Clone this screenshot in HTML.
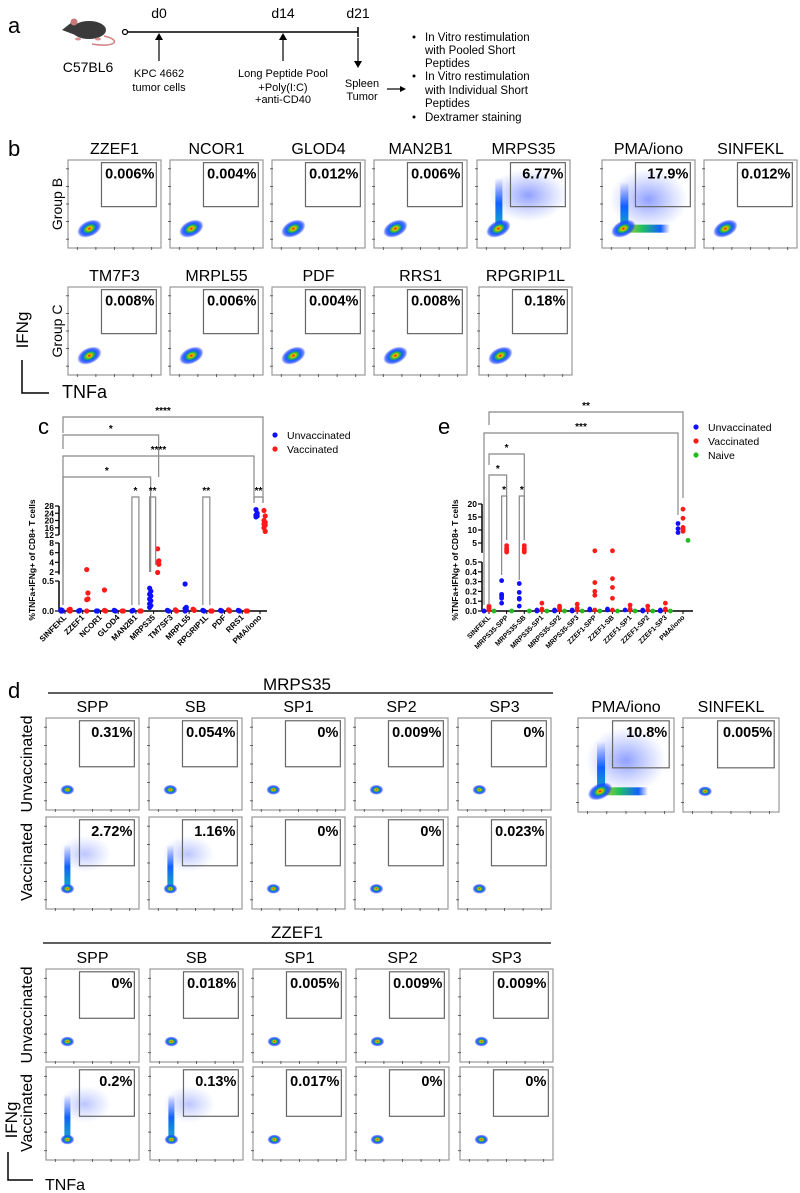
<!DOCTYPE html>
<html><head><meta charset="utf-8">
<style>
html,body{margin:0;padding:0;background:#fff;}
svg{display:block;font-family:"Liberation Sans",Arial,sans-serif;}
</style></head>
<body>
<svg id="fig" width="800" height="1193" viewBox="0 0 800 1193" xmlns="http://www.w3.org/2000/svg">
<defs>
<radialGradient id="blob" cx="0.5" cy="0.5" r="0.5">
<stop offset="0" stop-color="#e00000"/><stop offset="0.18" stop-color="#f0c000"/><stop offset="0.35" stop-color="#30c030"/><stop offset="0.55" stop-color="#1060ff"/><stop offset="0.8" stop-color="#2040ff" stop-opacity="0.7"/><stop offset="1" stop-color="#3050ff" stop-opacity="0"/>
</radialGradient>
<radialGradient id="haze" cx="0.5" cy="0.5" r="0.5">
<stop offset="0" stop-color="#2040ff" stop-opacity="0.5"/><stop offset="1" stop-color="#4060ff" stop-opacity="0"/>
</radialGradient>
<linearGradient id="vbar" x1="0" y1="1" x2="0" y2="0">
<stop offset="0" stop-color="#10b0c0"/><stop offset="0.5" stop-color="#1060ff"/><stop offset="1" stop-color="#3050ff" stop-opacity="0"/>
</linearGradient>
<linearGradient id="hbar" x1="0" y1="0" x2="1" y2="0">
<stop offset="0" stop-color="#d0d020"/><stop offset="0.4" stop-color="#20c060"/><stop offset="0.8" stop-color="#1060ff"/><stop offset="1" stop-color="#3050ff" stop-opacity="0"/>
</linearGradient>
</defs>

<!-- Panel a -->
<g>
<text x="8" y="33" font-size="22">a</text>
<g>
<path d="M104 36 C122 40 116 48 92 44" stroke="#d08080" stroke-width="1.5" fill="none"/>
<ellipse cx="89" cy="30" rx="17" ry="9" fill="#3a3a3a"/>
<path d="M62 30 L72 22 L80 26 L78 36 Z" fill="#3a3a3a"/>
<circle cx="74" cy="22" r="3.5" fill="#c87878"/>
<ellipse cx="78" cy="39" rx="3" ry="1.5" fill="#d89090"/>
<ellipse cx="98" cy="39" rx="3" ry="1.5" fill="#d89090"/>
</g>
<text x="88" y="72" font-size="14" text-anchor="middle">C57BL6</text>
<line x1="127" y1="32" x2="358" y2="32" stroke="#000" stroke-width="1.5"/>
<circle cx="125" cy="32" r="2.5" fill="#fff" stroke="#000" stroke-width="1.2"/>
<line x1="358" y1="27" x2="358" y2="37" stroke="#000" stroke-width="1.5"/>
<text x="159" y="18" font-size="14" text-anchor="middle">d0</text>
<text x="283" y="18" font-size="14" text-anchor="middle">d14</text>
<text x="358" y="18" font-size="14" text-anchor="middle">d21</text>
<line x1="159" y1="61" x2="159" y2="38" stroke="#000" stroke-width="1.2"/><path d="M155 40 L159 33 L163 40 Z"/>
<line x1="283" y1="61" x2="283" y2="38" stroke="#000" stroke-width="1.2"/><path d="M279 40 L283 33 L287 40 Z"/>
<line x1="358" y1="38" x2="358" y2="62" stroke="#000" stroke-width="1.2"/><path d="M354 61 L358 68 L362 61 Z"/>
<g font-size="11" text-anchor="middle">
<text x="159" y="77">KPC 4662</text>
<text x="159" y="91">tumor cells</text>
<text x="283" y="77">Long Peptide Pool</text>
<text x="283" y="91">+Poly(I:C)</text>
<text x="283" y="103">+anti-CD40</text>
<text x="362" y="87">Spleen</text>
<text x="362" y="100">Tumor</text>
</g>
<line x1="387" y1="89" x2="402" y2="89" stroke="#000" stroke-width="1.2"/><path d="M400 86 L406 89 L400 92 Z"/>
<g font-size="11.5">
<circle cx="414" cy="37" r="1.5"/><text x="425" y="41">In Vitro restimulation</text>
<text x="425" y="54">with Pooled Short</text><text x="425" y="67">Peptides</text>
<circle cx="414" cy="76" r="1.5"/><text x="425" y="80">In Vitro restimulation</text>
<text x="425" y="94">with Individual Short</text><text x="425" y="107">Peptides</text>
<circle cx="414" cy="117" r="1.5"/><text x="425" y="121">Dextramer staining</text>
</g>
</g>

<text x="8" y="156" font-size="22">b</text>
<text x="38" y="434" font-size="22">c</text>
<text x="438" y="434" font-size="22">e</text>
<text x="8" y="698" font-size="22">d</text>
<g id="dyn"></g>
</svg>
<script>
const NS='http://www.w3.org/2000/svg';
const root=document.getElementById('dyn');
function mk(tag,attrs,parent){const e=document.createElementNS(NS,tag);for(const k in attrs)e.setAttribute(k,attrs[k]);(parent||root).appendChild(e);return e;}
function tx(x,y,s,attrs,parent){const e=mk('text',Object.assign({x:x,y:y},attrs||{}),parent);e.textContent=s;return e;}
function rot(x,y,s,size){const e=tx(x,y,s,{'font-size':size,'text-anchor':'middle',transform:'rotate(-90 '+x+' '+y+')'});return e;}

/* ---------- flow plots ---------- */
function flow(x,y,w,h,title,pct,type,name){
  const g=mk('g',{});
  
  
  mk('rect',{x:x,y:y,width:w,height:h,fill:'#fff',stroke:'#999','stroke-width':1.2},g);
  for(let i=0;i<5;i++){mk('line',{x1:x-2,x2:x+1,y1:y+h*(0.1+i*0.2),y2:y+h*(0.1+i*0.2),stroke:'#444','stroke-width':0.8},g);
    mk('line',{x1:x+w*(0.1+i*0.2),x2:x+w*(0.1+i*0.2),y1:y+h-1,y2:y+h+2,stroke:'#444','stroke-width':0.8},g);}
  const bx=x+w*0.23,by=y+h*0.78;
  if(type==='mrps'){
    mk('ellipse',{cx:x+w*0.55,cy:y+h*0.4,rx:w*0.42,ry:h*0.3,fill:'url(#haze)'},g);
    mk('rect',{x:bx-3,y:y+h*0.2,width:7,height:h*0.58,fill:'url(#vbar)'},g);
  }
  if(type==='pma'){
    mk('ellipse',{cx:x+w*0.5,cy:y+h*0.45,rx:w*0.42,ry:h*0.35,fill:'url(#haze)'},g);
    mk('rect',{x:bx-3,y:y+h*0.25,width:8,height:h*0.55,fill:'url(#vbar)'},g);
    mk('rect',{x:bx,y:by-4,width:w*0.5,height:8,fill:'url(#hbar)'},g);
  }
  if(type==='vac'){
    mk('ellipse',{cx:x+w*0.42,cy:y+h*0.4,rx:w*0.28,ry:h*0.2,fill:'url(#haze)',opacity:0.6},g);
    mk('rect',{x:bx-3,y:y+h*0.3,width:6,height:h*0.48,fill:'url(#vbar)'},g);
  }
  const small=(type==='d'||type==='vac');
  mk('ellipse',{cx:bx,cy:by,rx:small?7:13,ry:small?5:8,fill:'url(#blob)',transform:small?'':'rotate(-25 '+bx+' '+by+')'},g);
  const gx=x+w*0.36,gy=y+h*0.03,gw=w*0.59,gh=h*0.5;
  const gate=mk('rect',{x:gx,y:gy,width:gw,height:gh,fill:'none',stroke:'#666','stroke-width':1.2},g);
  
  
  tx(gx+gw-2,gy+16,pct,{'font-size':14.5,'font-weight':'bold','text-anchor':'end'},g);
  if(title){tx(x+w/2,y-6,title,{'font-size':16,'text-anchor':'middle'},g);}
}
const bRow1=['ZZEF1','NCOR1','GLOD4','MAN2B1','MRPS35','PMA/iono','SINFEKL'];
const bRow1P=['0.006%','0.004%','0.012%','0.006%','6.77%','17.9%','0.012%'];
const bRow2=['TM7F3','MRPL55','PDF','RRS1','RPGRIP1L'];
const bRow2P=['0.008%','0.006%','0.004%','0.008%','0.18%'];
const bX1=[68,170,272,374,477,602,704], bX2=[68,170,272,374,479];
bRow1.forEach((t,i)=>flow(bX1[i],160,93,88,t,bRow1P[i],t==='MRPS35'?'mrps':t==='PMA/iono'?'pma':'b','flow-'+t.toLowerCase().replace('/','-')+'-groupb'));
bRow2.forEach((t,i)=>flow(bX2[i],287,93,88,t,bRow2P[i],'b','flow-'+t.toLowerCase()+'-groupc'));
rot(62,204,'Group B',14);
rot(62,331,'Group C',14);
rot(28,330,'IFNg',17);
mk('path',{d:'M22 360 L22 393 L49 393',fill:'none',stroke:'#000','stroke-width':1.5});
tx(62,398,'TNFa',{'font-size':18});

/* panel d */
const dCols=['SPP','SB','SP1','SP2','SP3'];
const dX=[46,149,252,355,458];
const mUn=['0.31%','0.054%','0%','0.009%','0%'], mVa=['2.72%','1.16%','0%','0%','0.023%'];
const zUn=['0%','0.018%','0.005%','0.009%','0.009%'], zVa=['0.2%','0.13%','0.017%','0%','0%'];
tx(297,690,'MRPS35',{'font-size':17,'text-anchor':'middle'});
mk('line',{x1:48,x2:553,y1:693,y2:693,stroke:'#000','stroke-width':1.3});
dCols.forEach((c,i)=>{flow(dX[i],718,93,92,c,mUn[i],'d','flow-mrps35-'+c.toLowerCase()+'-unvacc');
  flow(dX[i],817,93,92,null,mVa[i],(i<2)?'vac':'d','flow-mrps35-'+c.toLowerCase()+'-vacc');});
flow(578,718,96,94,'PMA/iono','10.8%','pma','flow-pma-iono-d');
flow(683,718,96,94,'SINFEKL','0.005%','d','flow-sinfekl-d');
rot(32,764,'Unvaccinated',16);
rot(32,862,'Vaccinated',16);
tx(297,938,'ZZEF1',{'font-size':17,'text-anchor':'middle'});
mk('line',{x1:43,x2:551,y1:943,y2:943,stroke:'#000','stroke-width':1.3});
const zX=[46,150,253,356,460];
dCols.forEach((c,i)=>{flow(zX[i],969,93,93,c,zUn[i],'d','flow-zzef1-'+c.toLowerCase()+'-unvacc');
  flow(zX[i],1067,93,93,null,zVa[i],(i<2)?'vac':'d','flow-zzef1-'+c.toLowerCase()+'-vacc');});
rot(32,1015,'Unvaccinated',16);
rot(32,1113,'Vaccinated',16);
rot(17,1120,'IFNg',17);
mk('path',{d:'M8 1152 L8 1180 L33 1180',fill:'none',stroke:'#000','stroke-width':1.5});
tx(45,1190,'TNFa',{'font-size':16});
</script>

<script>
/* ---------- chart c data ---------- */
const cCats=['SINFEKL','ZZEF1','NCOR1','GLOD4','MAN2B1','MRPS35','TM7SF3','MRPL55','RPGRIP1L','PDF','RRS1','PMA/iono'];
const cUnvacc=[[0.01,0.01,0.02,0,0],[0,0.01,0],[0,0],[0.01,0],[0,0.01],[0.38,0.33,0.28,0.25,0.2,0.17,0.12,0.09,0.06],[0.01,0],[0.45,0.06,0.04,0.02,0],[0.01,0],[0.01,0],[0.01,0],[26,24,23,22.5,22]];
const cVacc=[[0.02,0.03,0.01,0],[2.5,0.3,0.19,0.2,0],[0.35,0,0.01],[0,0],[0,0],[6.8,4.3,4,3.6,1.9],[0.02,0],[0.03,0.01],[0,0],[0.02,0],[0,0],[25.5,22.5,20,19,18,17.5,16,14]];
const cTicksLow=[0.0,0.5], cTicksMid=[2,4,6,8], cTicksHigh=[12,16,20,24,28];
/* ---------- chart e data ---------- */
const eCats=['SINFEKL','MRPS35-SPP','MRPS35-SB','MRPS35-SP1','MRPS35-SP2','MRPS35-SP3','ZZEF1-SPP','ZZEF1-SB','ZZEF1-SP1','ZZEF1-SP2','ZZEF1-SP3','PMA/iono'];
const eUnvacc=[[0,0],[0.31,0.17,0.16,0.15,0.13,0.08],[0.28,0.19,0.13,0.12,0.05],[0.01,0],[0.01,0],[0.01,0],[0.02,0.01],[0.02,0.01],[0.01],[0.01,0],[0.01,0],[12.5,10.5,9]];
const eVacc=[[0.05,0.04,0.03,0.02,0.01],[4,3,2.5,2,1.5],[4,3,2.5,2,1.5],[0.08,0.02,0.01],[0.05,0.03,0.01],[0.07,0.03,0.01],[2,0.29,0.2,0.16,0.01],[2,0.33,0.24,0.13,0.01],[0.06,0.02,0.01],[0.05,0.01],[0.08,0.02,0.01],[18,14.5,11,10.5,10,9.5]];
const eNaive=[[0],[0],[0],[0],[0],[0],[0],[0],[0],[0],[0],[6]];
const eTicksLow=[0.0,0.1,0.2,0.3,0.4,0.5], eTicksHigh=[5,10,15,20];

const R=document.getElementById('dyn');
function M(tag,attrs){const e=document.createElementNS('http://www.w3.org/2000/svg',tag);for(const k in attrs)e.setAttribute(k,attrs[k]);R.appendChild(e);return e;}
function T(x,y,s,attrs){const e=M('text',Object.assign({x:x,y:y},attrs));e.textContent=s;return e;}

/* chart c scales */
const cX0=65,cDX=(260-65)/11,cAxisX=59,cBase=611;
function cx(i){return cX0+i*cDX;}
function cy(v){if(v<=0.5)return 611-v*60; if(v<=10)return 572-(v-2)*(29/6); return 535-(v-12)*(29/16);}
function drawAxisSeg(ax,y1,y2){M('line',{x1:ax,x2:ax,y1:y1,y2:y2,stroke:'#000','stroke-width':1.5});}
drawAxisSeg(cAxisX,cy(0),cy(0.5));
drawAxisSeg(cAxisX,cy(1.5),cy(8));
drawAxisSeg(cAxisX,cy(12),cy(28));
M('line',{x1:cAxisX,x2:267,y1:cBase,y2:cBase,stroke:'#000','stroke-width':1.5});
[].concat(cTicksLow,cTicksMid,cTicksHigh).forEach(v=>{
  M('line',{x1:cAxisX-4,x2:cAxisX,y1:cy(v),y2:cy(v),stroke:'#000','stroke-width':1.2});
  const t=T(cAxisX-5,cy(v)+3,v<1?v.toFixed(1):String(v),{'font-size':8.5,'font-weight':'bold','text-anchor':'end'});
  
  
});
const cyl=T(35,560,'%TNFa+IFNg+ of CD8+ T cells',{'font-size':8.5,'font-weight':'bold','text-anchor':'middle',transform:'rotate(-90 35 560)'});


cCats.forEach((c,i)=>{
  M('line',{x1:cx(i),x2:cx(i),y1:cBase,y2:cBase+3,stroke:'#000','stroke-width':1});
  const t=T(cx(i)+2,cBase+7,c,{'font-size':8,'font-weight':'bold','text-anchor':'end',transform:'rotate(-45 '+(cx(i)+2)+' '+(cBase+7)+')'});
  
  
  cUnvacc[i].forEach((v,j)=>{const d=M('circle',{cx:cx(i)-4+(j%2)*1.2,cy:cy(v),r:2.6,fill:'#1010ff'});
    
    });
  cVacc[i].forEach((v,j)=>{const d=M('circle',{cx:cx(i)+4+(j%2)*1.2,cy:cy(v),r:2.6,fill:'#ff1a1a'});
    
    });
});
function bracket(x1,x2,y,yd1,yd2,label,name){
  const p=M('path',{d:'M'+x1+' '+yd1+' L'+x1+' '+y+' L'+x2+' '+y+' L'+x2+' '+yd2,fill:'none',stroke:'#888','stroke-width':1.2});
  
  
  T((x1+x2)/2,y-3,label,{'font-size':10,'font-weight':'bold','text-anchor':'middle'});
}
bracket(cx(0)-2,cx(11)+3,417,433,503,'****','c-bracket-sinfekl-pma-vacc');
bracket(cx(0)-2,cx(5)+5,435,449,477,'*','c-bracket-sinfekl-mrps35-vacc');
bracket(cx(0)-2,cx(11)-6,456,605,500,'****','c-bracket-sinfekl-pma-unvacc');
bracket(cx(0)-2,cx(5)-3,477,605,572,'*','c-bracket-sinfekl-mrps35-unvacc');
bracket(cx(4)-4,cx(4)+3,497,605,605,'*','c-bracket-man2b1');
bracket(cx(5)-4,cx(5)+2,497,572,565,'**','c-bracket-mrps35');
bracket(cx(8)-4,cx(8)+3,497,605,605,'**','c-bracket-rpgrip1l');
bracket(cx(11)-6,cx(11)+3,497,503,503,'**','c-bracket-pma');
function legend(x,y,items,prefix){items.forEach((it,k)=>{
  const c=M('circle',{cx:x,cy:y+k*14,r:2.6,fill:it[1]});
  
  
  const t=T(x+12,y+k*14+4,it[0],{'font-size':10.5});
  
  
});}
legend(275,435,[['Unvaccinated','#1010ff'],['Vaccinated','#ff1a1a']],'c');

/* chart e scales */
const eX0=489,eDX=(683-489)/11,eAxisX=482,eBase=611;
function ex(i){return eX0+i*eDX;}
function ey(v){if(v<=0.5)return 611-v*98; return 543-(v-5)*(39/15);}
drawAxisSeg(eAxisX,ey(0),ey(0.5));
drawAxisSeg(eAxisX,ey(1.2),ey(20));
M('line',{x1:eAxisX,x2:693,y1:eBase,y2:eBase,stroke:'#000','stroke-width':1.5});
[].concat(eTicksLow,eTicksHigh).forEach(v=>{
  M('line',{x1:eAxisX-4,x2:eAxisX,y1:ey(v),y2:ey(v),stroke:'#000','stroke-width':1.2});
  const t=T(eAxisX-5,ey(v)+3,v<1?v.toFixed(1):String(v),{'font-size':8.5,'font-weight':'bold','text-anchor':'end'});
  
  
});
const eyl=T(458,560,'%TNFa+IFNg+ of CD8+ T cells',{'font-size':8.5,'font-weight':'bold','text-anchor':'middle',transform:'rotate(-90 458 560)'});


eCats.forEach((c,i)=>{
  M('line',{x1:ex(i),x2:ex(i),y1:eBase,y2:eBase+3,stroke:'#000','stroke-width':1});
  const t=T(ex(i)+2,eBase+7,c,{'font-size':7,'font-weight':'bold','text-anchor':'end',transform:'rotate(-45 '+(ex(i)+2)+' '+(eBase+7)+')'});
  
  
  eUnvacc[i].forEach(v=>{const d=M('circle',{cx:ex(i)-5,cy:ey(v),r:2.4,fill:'#1010ff'});
    
    });
  eVacc[i].forEach(v=>{const d=M('circle',{cx:ex(i),cy:ey(v),r:2.4,fill:'#ff1a1a'});
    
    });
  eNaive[i].forEach(v=>{const d=M('circle',{cx:ex(i)+5,cy:ey(v),r:2.4,fill:'#22bb22'});
    
    });
});
bracket(ex(0),ex(11),412,425,498,'**','e-bracket-sinfekl-pma-vacc');
bracket(ex(0)-5,ex(11)-5,433,605,515,'***','e-bracket-sinfekl-pma-unvacc');
bracket(ex(0),ex(2),454,465,540,'*','e-bracket-sinfekl-sb');
bracket(ex(0),ex(1),475,605,540,'*','e-bracket-sinfekl-spp');
bracket(ex(1)-5,ex(1),496,575,540,'*','e-bracket-spp');
bracket(ex(2)-5,ex(2),496,580,540,'*','e-bracket-sb');
legend(696,427,[['Unvaccinated','#1010ff'],['Vaccinated','#ff1a1a'],['Naive','#22bb22']],'e');
</script>
</body></html>
